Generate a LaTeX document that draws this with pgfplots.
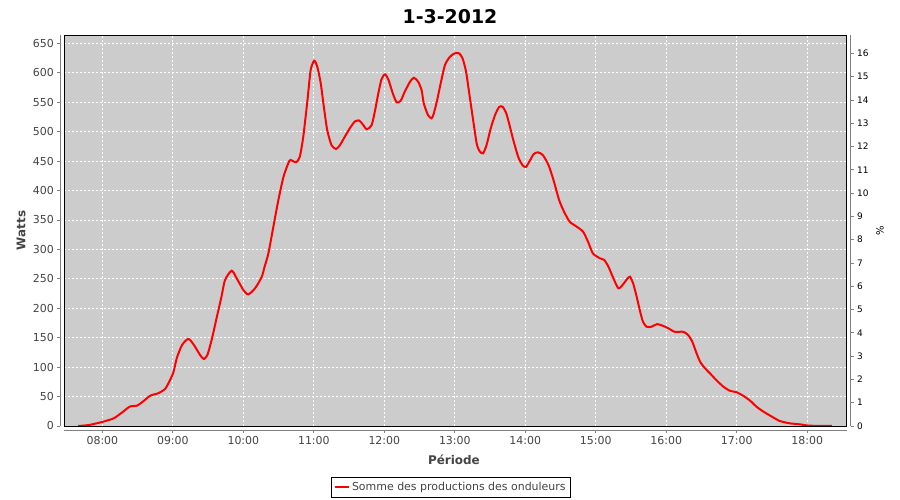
\documentclass[border=0pt]{standalone}
\usepackage{pgfplots}
\pgfplotsset{compat=1.18}
\usepackage{fontspec}
\setmainfont{DejaVu Sans}
\definecolor{plotbg}{RGB}{204,204,204}
\definecolor{lab}{RGB}{68,68,68}
\definecolor{axgray}{RGB}{128,128,128}
\pgfplotstableread{
h w
7.655 0
7.80 1.5
7.92 4.6
8.01 7.3
8.16 13
8.28 23
8.39 33
8.49 34.5
8.56 40
8.68 51.5
8.79 55.5
8.89 63
8.96 78
9.01 92
9.055 115
9.13 137.5
9.22 148
9.30 137.5
9.386 120.6
9.44 113.8
9.49 120.6
9.55 146
9.62 183
9.69 219.6
9.74 248
9.835 263.8
9.906 250.8
10.0 231
10.07 223.6
10.166 233.8
10.26 253
10.30 270
10.355 293
10.426 338.5
10.497 383.8
10.57 423.4
10.64 447
10.67 451.8
10.748 447.9
10.80 457
10.85 491
10.91 553.7
10.955 604.6
11.006 620.4
11.05 610
11.098 582
11.145 539.6
11.19 502.7
11.25 477.2
11.315 470.4
11.37 477
11.44 491.4
11.51 505.5
11.58 517
11.64 519
11.69 513
11.75 504
11.82 511
11.87 536.7
11.915 565
11.96 588.8
12.01 597.3
12.06 587.6
12.12 565
12.176 549.7
12.233 552.5
12.29 567.8
12.365 584.8
12.42 591.5
12.48 584.8
12.53 570
12.56 548
12.62 528
12.67 522.6
12.70 530
12.75 553.7
12.80 582
12.86 613
12.93 627
13.0 633
13.06 633
13.11 624.5
13.16 601.7
13.215 556.6
13.26 519.7
13.31 480
13.35 467
13.40 463
13.45 477
13.51 505.5
13.57 528
13.63 542
13.68 542
13.73 531
13.77 514
13.83 485.7
13.90 457
13.96 443
14.01 440
14.07 451.8
14.12 462
14.18 464.8
14.25 460
14.33 443
14.40 417.8
14.48 383.8
14.55 364
14.63 347
14.73 338.5
14.82 330
14.89 313
14.96 293
15.06 284.8
15.12 282
15.18 270.5
15.25 250.8
15.32 233.9
15.38 239.5
15.44 249
15.485 253.6
15.53 242.3
15.58 219.6
15.63 194
15.67 177
15.72 168.6
15.79 168.6
15.87 173
15.96 169.8
16.03 165.9
16.12 160
16.24 160
16.31 154.5
16.37 143
16.43 123.5
16.48 109.2
16.55 98
16.62 89.5
16.71 78
16.81 66.8
16.90 60
17.0 57.2
17.09 51.5
17.19 43
17.28 32.8
17.38 24.3
17.50 15.8
17.61 8.5
17.755 4.5
17.90 2.8
17.99 1
18.10 0.3
18.35 0
}\prod
\begin{document}
\begin{tikzpicture}
\useasboundingbox (0,0) rectangle (900bp,500bp);
\begin{axis}[
  at={(64.3bp,74bp)}, anchor=south west,
  width=782.4bp, height=391bp, scale only axis,
  xmin=7.46, xmax=18.56, ymin=0, ymax=664.1,
  axis background/.style={fill=plotbg},
  axis x line*=bottom, axis y line*=left,
  axis x line shift=4bp, axis y line shift=4bp,
  axis line style={axgray, line width=0.8bp, -},
  xtick={8,...,18},
  xticklabels={08:00,09:00,10:00,11:00,12:00,13:00,14:00,15:00,16:00,17:00,18:00},
  ytick={0,50,...,650},
  /pgf/number format/assume math mode=true,
  tick align=outside, major tick length=3bp,
  tick style={axgray, line width=0.8bp},
  ticklabel style={font=\fontsize{11}{11}\selectfont, text=lab},
  grid=major,
  major grid style={white, line width=0.8bp, dash pattern=on 2bp off 2bp},
  title={1-3-2012},
  title style={at={(axis description cs:0.493,1.033)}, anchor=center, font=\bfseries\fontsize{19}{19}\selectfont},
  xlabel={Période},
  xlabel style={at={(axis description cs:0.498,-0.087)}, anchor=center, font=\bfseries\fontsize{12}{12}\selectfont, text=lab},
  ylabel={Watts},
  ylabel style={at={(axis description cs:-0.0553,0.5)}, anchor=center, font=\bfseries\fontsize{12}{12}\selectfont, text=lab},
  legend style={at={(axis description cs:0.494,-0.1304)}, anchor=north, draw=black, line width=0.8bp, fill=white, font=\fontsize{11}{11}\selectfont, text=lab, inner sep=3bp},
  legend image code/.code={\draw[red, line width=2bp] (0bp,0bp) -- (14bp,0bp);},
  after end axis/.code={\draw[black, line width=0.8bp] (rel axis cs:0,0) rectangle (rel axis cs:1,1);},
]
\addplot[red, line width=2bp, smooth, tension=0.4] table[x=h, y=w] {\prod};
\addlegendentry{Somme des productions des onduleurs}
\end{axis}
\begin{axis}[
  at={(64.3bp,74bp)}, anchor=south west,
  width=782.4bp, height=391bp, scale only axis,
  xmin=7.46, xmax=18.56, ymin=0, ymax=16.79,
  axis x line=none, axis y line*=right,
  axis y line shift=4bp,
  axis line style={axgray, line width=0.8bp, -},
  ytick={0,...,16},
  /pgf/number format/assume math mode=true,
  tick align=outside, major tick length=3bp,
  tick style={axgray, line width=0.8bp},
  yticklabel style={font=\fontsize{9}{9}\selectfont, text=black},
  ylabel={\%},
  ylabel style={at={(axis description cs:1.0426,0.5)}, anchor=center, font=\fontsize{10}{10}\selectfont},
]
\end{axis}
\end{tikzpicture}
\end{document}
